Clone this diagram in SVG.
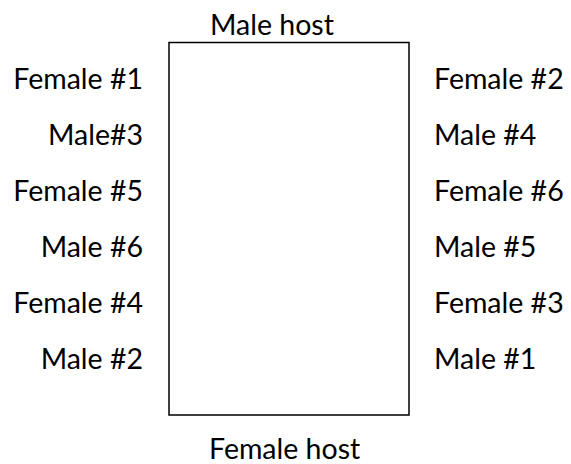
<svg xmlns="http://www.w3.org/2000/svg" width="571" height="464" viewBox="0 0 571 464">
<style>
text{font-family:"Lato","Open Sans","Liberation Sans",sans-serif;font-size:28.5px;fill:#000}
.l{text-anchor:end}
.r{text-anchor:start}
.box{fill:#fff;stroke:#000;stroke-width:1.5}
</style>
<rect width="571" height="464" fill="#fff"/>
<g id="connectors"></g>
<g id="box"><rect class="box" x="169" y="42.5" width="240" height="372.5"/></g>
<g id="male-host"><text x="210" y="35">Male host</text></g>
<g id="female-host"><text x="209" y="459">Female host</text></g>
<g id="female1"><text class="l" x="143" y="89">Female #1</text></g>
<g id="male3"><text class="l" x="143" y="145">Male#3</text></g>
<g id="female5"><text class="l" x="143" y="201">Female #5</text></g>
<g id="male6"><text class="l" x="143" y="257">Male #6</text></g>
<g id="female4"><text class="l" x="143" y="313">Female #4</text></g>
<g id="male2"><text class="l" x="143" y="369">Male #2</text></g>
<g id="female2"><text class="r" x="434" y="89">Female #2</text></g>
<g id="male4"><text class="r" x="434" y="145">Male #4</text></g>
<g id="female6"><text class="r" x="434" y="201">Female #6</text></g>
<g id="male5"><text class="r" x="434" y="257">Male #5</text></g>
<g id="female3"><text class="r" x="434" y="313">Female #3</text></g>
<g id="male1"><text class="r" x="434" y="369">Male #1</text></g>
</svg>
